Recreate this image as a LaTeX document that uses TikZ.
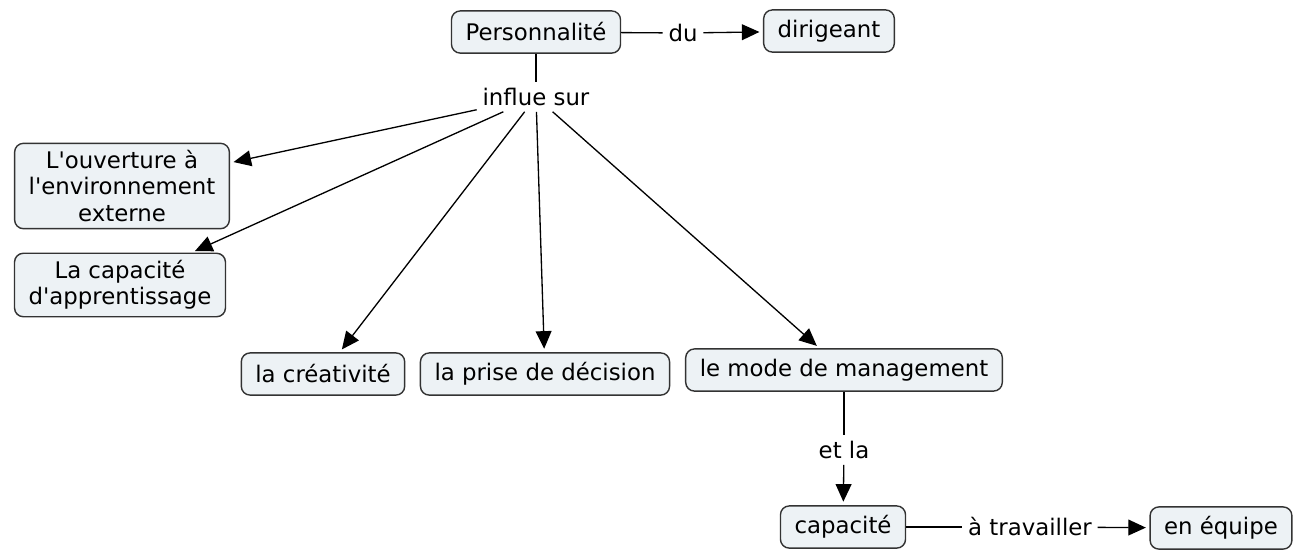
\documentclass[tikz,border=0pt]{standalone}
\usepackage{fontspec}
\setmainfont{DejaVu Sans}
\usetikzlibrary{arrows.meta}
\definecolor{boxfill}{HTML}{EDF2F5}
\definecolor{boxline}{HTML}{333333}
\tikzset{
  concept/.style={draw=boxline,fill=boxfill,line width=0.8pt,rounded corners=5pt,
    align=center,inner xsep=8pt,inner ysep=4pt,minimum height=24pt,
    font=\fontsize{13}{15}\selectfont},
  link/.style={inner sep=3pt,font=\fontsize{13}{15}\selectfont},
  arr/.style={-{Triangle[length=10pt,width=9pt]},shorten >=2pt}
}
\begin{document}
\begin{tikzpicture}[x=0.02cm,y=-0.02cm,line width=0.75pt]
\useasboundingbox (0,0) rectangle (1295,549);
\node[concept] (pers) at (536,32) {Personnalit\'e};
\node[concept] (dir) at (829,31) {dirigeant};
\node[link] (du) at (683,33) {du};
\node[link] (influe) at (536,97) {influe sur};
\node[concept] (ouv) at (122,186) {L\textquotesingle ouverture \`a\\l\textquotesingle environnement\\externe};
\node[concept] (app) at (120,285) {La capacit\'e\\d\textquotesingle apprentissage};
\node[concept] (crea) at (323,374) {la cr\'eativit\'e};
\node[concept] (dec) at (545,374) {la prise de d\'ecision};
\node[concept] (mgt) at (844,370) {le mode de management};
\node[link] (etla) at (844,450) {et la};
\node[concept] (cap) at (843,527) {capacit\'e};
\node[link] (trav) at (1030,527) {\`a travailler};
\node[concept] (equ) at (1221,528) {en \'equipe};
\draw (pers) -- (du);
\draw[arr] (du) -- (dir);
\draw (pers) -- (influe);
\draw[arr] (influe) -- (ouv);
\draw[arr] (influe) -- (app);
\draw[arr] (influe) -- (crea);
\draw[arr] (influe) -- (dec);
\draw[arr] (influe) -- (mgt);
\draw (mgt) -- (etla);
\draw[arr] (etla) -- (cap);
\draw (cap) -- (trav);
\draw[arr] (trav) -- (equ);
\end{tikzpicture}
\end{document}
